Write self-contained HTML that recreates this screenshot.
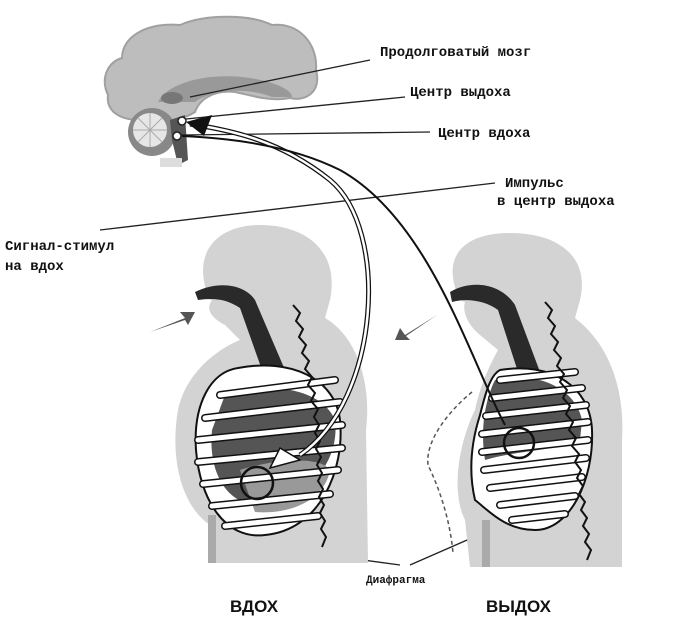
<!DOCTYPE html>
<html><head><meta charset="utf-8"><style>
html,body{margin:0;padding:0;background:#fff;width:681px;height:634px;overflow:hidden}
svg{display:block}
text{font-family:"Liberation Mono","DejaVu Sans Mono",monospace;font-weight:bold;fill:#111}
</style></head><body>
<svg width="681" height="634" viewBox="0 0 681 634" xmlns="http://www.w3.org/2000/svg">
<!-- brain -->
<path d="M108,95 C100,78 108,62 122,58 C122,35 150,22 180,25 C205,14 250,14 272,25 C300,22 318,45 316,70 C322,92 305,102 290,98 C270,102 250,95 235,92 C215,90 200,98 195,112 C180,122 160,122 140,120 C118,120 106,110 108,95 Z" fill="#bdbdbd" stroke="#a0a0a0" stroke-width="2"/>
<path d="M158,102 C168,82 210,72 250,78 C275,82 292,90 292,97 L272,97 C250,88 215,88 195,102 Z" fill="#999"/>
<ellipse cx="172" cy="98" rx="11" ry="6" fill="#777"/>
<circle cx="152" cy="132" r="24" fill="#888"/>
<circle cx="150" cy="130" r="17" fill="#e6e6e6"/>
<g stroke="#aaa" stroke-width="1"><line x1="150" y1="113" x2="150" y2="147"/><line x1="133" y1="130" x2="167" y2="130"/><line x1="138" y1="118" x2="162" y2="142"/><line x1="162" y1="118" x2="138" y2="142"/></g>
<path d="M170,120 L185,115 L188,160 L178,165 L172,140 Z" fill="#555"/>
<rect x="160" y="158" width="22" height="9" fill="#ddd"/>
<!-- label lines -->
<g stroke="#222" stroke-width="1.3" fill="none">
<line x1="190" y1="97" x2="370" y2="60"/>
<line x1="186" y1="119" x2="405" y2="97"/>
<line x1="181" y1="135" x2="430" y2="132"/>
<line x1="100" y1="230" x2="495" y2="183"/>
<line x1="215" y1="540" x2="400" y2="565"/>
<line x1="410" y1="565" x2="490" y2="530"/>
</g>
<!-- left figure -->
<path d="M210,300 C190,255 215,225 260,225 C305,225 340,250 330,300 L325,318 C355,335 372,380 366,430 L368,563 L215,563 L210,525 C180,505 170,455 178,410 C185,375 215,350 240,340 L225,325 C212,318 205,310 212,300 Z" fill="#d3d3d3"/>
<path d="M195,292 C220,280 245,285 255,300 L285,370 L262,370 L240,308 C225,298 212,298 198,300 Z" fill="#2a2a2a"/>
<rect x="208" y="515" width="8" height="48" fill="#aaa"/>
<path d="M238,368 C290,358 335,378 340,420 C345,470 320,530 265,535 C225,540 200,500 196,450 C193,405 210,372 238,368 Z" fill="#fff" stroke="#111" stroke-width="2"/>
<path d="M225,395 C260,382 320,385 335,420 C340,460 310,500 260,505 C225,505 208,470 212,430 Z" fill="#555"/>
<path d="M240,470 C270,460 320,455 330,470 C325,500 290,515 255,512 Z" fill="#999"/>
<g stroke="#111" stroke-width="8" fill="none" stroke-linecap="round">
<line x1="220" y1="395" x2="335" y2="380"/><line x1="205" y1="418" x2="340" y2="402"/><line x1="198" y1="440" x2="342" y2="425"/><line x1="198" y1="462" x2="342" y2="448"/><line x1="203" y1="484" x2="338" y2="470"/><line x1="212" y1="506" x2="330" y2="494"/><line x1="225" y1="526" x2="318" y2="516"/>
</g>
<g stroke="#fff" stroke-width="5" fill="none" stroke-linecap="round">
<line x1="220" y1="395" x2="335" y2="380"/><line x1="205" y1="418" x2="340" y2="402"/><line x1="198" y1="440" x2="342" y2="425"/><line x1="198" y1="462" x2="342" y2="448"/><line x1="203" y1="484" x2="338" y2="470"/><line x1="212" y1="506" x2="330" y2="494"/><line x1="225" y1="526" x2="318" y2="516"/>
</g>
<path d="M293,305 l7,8 -4,8 7,8 -4,8 7,8 -4,8 7,8 -4,8 7,8 -4,8 7,8 -4,8 7,8 -4,8 5,8 -4,8 5,8 -4,8 5,8 -4,8 5,8 -4,8 5,8 -4,8 5,8 -4,8 5,8 -4,8 5,8 -4,10" fill="none" stroke="#111" stroke-width="2"/>
<circle cx="257" cy="483" r="16" fill="none" stroke="#111" stroke-width="2.5"/>
<path d="M280,448 L300,460 L270,468 Z" fill="#fff" stroke="#111" stroke-width="1.5"/>
<path d="M150,332 L185,318 L180,312 L195,312 L188,325 L185,320 Z" fill="#555"/>
<!-- right figure -->
<path d="M460,300 C440,258 462,233 510,233 C560,233 590,258 580,300 L575,318 C610,345 625,390 622,440 L622,567 L470,567 L465,520 C450,490 460,440 475,410 C480,385 490,365 498,350 L480,335 C468,325 462,312 465,302 Z" fill="#d3d3d3"/>
<rect x="482" y="520" width="8" height="47" fill="#aaa"/>
<path d="M450,292 C470,280 500,282 515,305 L540,372 L518,372 L498,310 C485,300 465,298 452,302 Z" fill="#2a2a2a"/>
<path d="M500,370 C550,362 590,385 592,430 C594,480 570,530 535,530 C505,530 488,510 475,500 C468,470 472,440 480,415 C485,395 490,375 500,370 Z" fill="#fff" stroke="#111" stroke-width="2"/>
<path d="M495,380 C530,370 575,385 582,420 L580,440 C560,450 520,450 485,460 C480,430 485,400 495,380 Z" fill="#555"/>
<g stroke="#111" stroke-width="8" fill="none" stroke-linecap="round">
<line x1="500" y1="380" x2="575" y2="372"/><line x1="492" y1="398" x2="582" y2="388"/><line x1="486" y1="416" x2="586" y2="405"/><line x1="482" y1="434" x2="588" y2="422"/><line x1="482" y1="452" x2="588" y2="440"/><line x1="484" y1="470" x2="586" y2="458"/><line x1="490" y1="488" x2="582" y2="477"/><line x1="500" y1="505" x2="575" y2="496"/><line x1="512" y1="520" x2="565" y2="514"/>
</g>
<g stroke="#fff" stroke-width="5" fill="none" stroke-linecap="round">
<line x1="500" y1="380" x2="575" y2="372"/><line x1="492" y1="398" x2="582" y2="388"/><line x1="486" y1="416" x2="586" y2="405"/><line x1="482" y1="434" x2="588" y2="422"/><line x1="482" y1="452" x2="588" y2="440"/><line x1="484" y1="470" x2="586" y2="458"/><line x1="490" y1="488" x2="582" y2="477"/><line x1="500" y1="505" x2="575" y2="496"/><line x1="512" y1="520" x2="565" y2="514"/>
</g>
<path d="M545,302 l7,8 -4,8 7,8 -4,8 7,8 -4,8 7,8 -4,8 7,8 -4,8 7,8 -4,8 7,8 -4,8 7,8 -4,8 7,8 -4,8 7,8 -4,8 6,8 -4,8 6,8 -4,8 6,8 -4,8 6,8 -4,8 6,8 -4,8 6,8 -4,10" fill="none" stroke="#111" stroke-width="2"/>
<circle cx="519" cy="443" r="15" fill="none" stroke="#111" stroke-width="2.5"/>
<path d="M472,392 C450,410 425,440 428,465 C440,490 450,520 453,553" fill="none" stroke="#555" stroke-width="1.5" stroke-dasharray="4,3"/>
<path d="M437,315 L405,335 L400,328 L395,340 L410,340 L406,336 Z" fill="#555"/>
<!-- nerve paths -->
<path d="M300,455 C380,400 390,230 330,180 C280,140 230,130 190,124" fill="none" stroke="#111" stroke-width="5"/>
<path d="M300,455 C380,400 390,230 330,180 C280,140 230,130 190,124" fill="none" stroke="#fff" stroke-width="2.5"/>
<path d="M505,425 C470,360 430,220 340,170 C290,145 230,138 182,136" fill="none" stroke="#111" stroke-width="2"/>
<path d="M186,122 L212,115 L204,136 Z" fill="#111"/>
<circle cx="182" cy="121" r="4" fill="#fff" stroke="#222" stroke-width="1.5"/>
<circle cx="177" cy="136" r="4" fill="#fff" stroke="#222" stroke-width="1.5"/>
<!-- labels -->
<text x="380" y="56" font-size="14">Продолговатый мозг</text>
<text x="410" y="96" font-size="14">Центр выдоха</text>
<text x="438" y="137" font-size="14">Центр вдоха</text>
<text x="505" y="187" font-size="14">Импульс</text>
<text x="497" y="205" font-size="14">в центр выдоха</text>
<text x="5" y="250" font-size="14">Сигнал-стимул</text>
<text x="5" y="270" font-size="14">на вдох</text>
<text x="366" y="583" font-size="11">Диафрагма</text>
<text x="230" y="612" font-size="17" style="font-family:'Liberation Sans',sans-serif">ВДОХ</text>
<text x="486" y="612" font-size="17" style="font-family:'Liberation Sans',sans-serif">ВЫДОХ</text>
</svg>
</body></html>
